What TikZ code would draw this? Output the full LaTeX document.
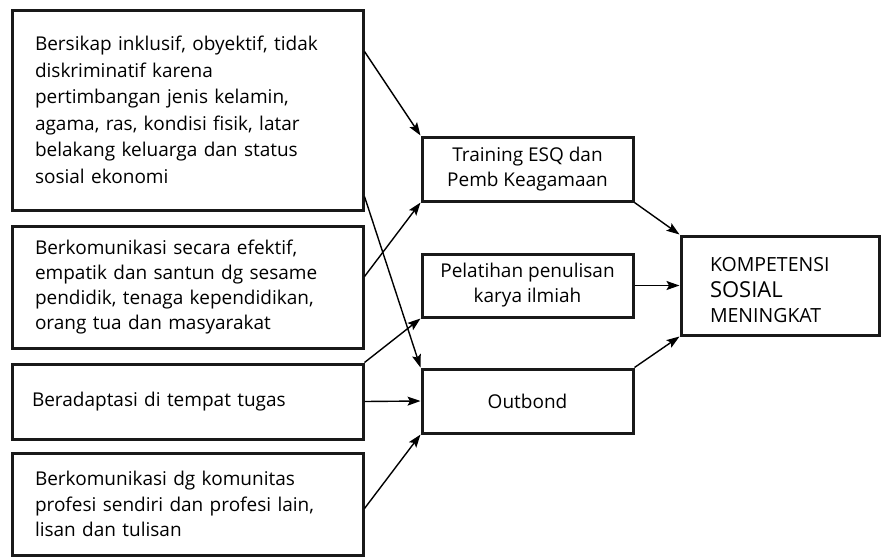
\documentclass[tikz,border=0pt]{standalone}
\usepackage{fontspec}
\setmainfont{Open Sans}
\usetikzlibrary{arrows.meta}
\begin{document}
\begin{tikzpicture}[x=1pt,y=-1pt,
  box/.style={draw=black!90, line width=3pt, rectangle, inner sep=0pt, font=\fontsize{19}{26.5}\selectfont},
  lbox/.style={box, align=left, text width=305pt, inner xsep=23pt, minimum width=351pt},
  mbox/.style={box, align=center, minimum width=211pt, minimum height=64pt, font=\fontsize{19}{25}\selectfont},
  conn/.style={line width=1.4pt, -{Stealth[length=13pt,width=9pt,inset=2.5pt]}}]
\useasboundingbox (0,0) rectangle (881,558);
\node[lbox, minimum height=200pt] (b1) at (187.5,110) {Bersikap inklusif, obyektif, tidak\\diskriminatif karena\\pertimbangan jenis kelamin,\\agama, ras, kondisi fisik, latar\\belakang keluarga dan status\\sosial ekonomi};
\node[lbox, minimum height=122pt, font=\fontsize{19}{25}\selectfont] (b2) at (187.5,287) {Berkomunikasi secara efektif,\\empatik dan santun dg sesame\\pendidik, tenaga kependidikan,\\orang tua dan masyarakat};
\node[lbox, minimum height=75pt, inner xsep=20pt, text width=311pt] (b3) at (187.5,401.5) {Beradaptasi di tempat tugas};
\node[lbox, minimum height=102pt, font=\fontsize{19}{25.5}\selectfont] (b4) at (187.5,504) {Berkomunikasi dg komunitas\\profesi sendiri dan profesi lain,\\lisan dan tulisan};
\node[mbox] (tr) at (527.5,169) {Training ESQ dan\\Pemb Keagamaan};
\node[mbox, minimum height=63pt] (pl) at (527.5,285.5) {Pelatihan penulisan\\karya ilmiah};
\node[mbox] (ob) at (527.5,401) {Outbond};
\node[box, align=left, text width=140pt, inner xsep=29pt, minimum width=198pt, minimum height=99pt, font=\fontsize{19.5}{25.5}\selectfont] (ko) at (780,285.5) {\rule{0pt}{24pt}KOMPETENSI\\{\fontsize{22}{25.5}\selectfont SOSIAL}\\MENINGKAT};
\draw[conn] ([yshift=-43pt]b1.north east) -- (tr.north west);
\draw[conn] ([yshift=15pt]b1.south east) -- (ob.north west);
\draw[conn] ([yshift=-52pt]b2.north east) -- (tr.south west);
\draw[conn] (b3.north east) -- (pl.south west);
\draw[conn] (b3.east) -- (ob.west);
\draw[conn] ([yshift=-57pt]b4.north east) -- (ob.south west);
\draw[conn] (tr.south east) -- (ko.north west);
\draw[conn] (pl.east) -- (ko.west);
\draw[conn] (ob.north east) -- (ko.south west);
\end{tikzpicture}
\end{document}
